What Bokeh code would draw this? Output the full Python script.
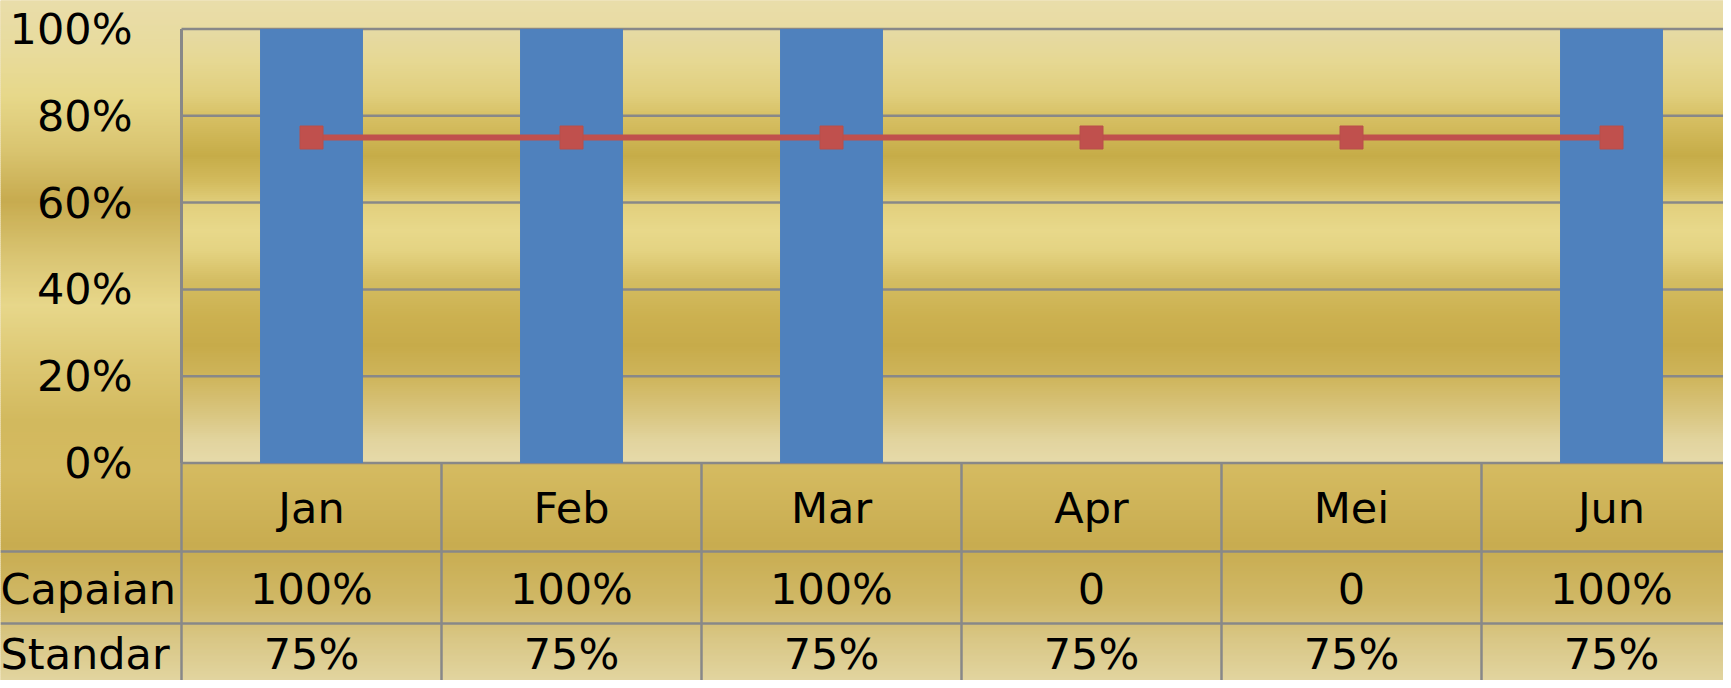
import numpy as np
from bokeh.plotting import figure
from bokeh.models import Range1d, ColumnDataSource
from bokeh.core.properties import value
from bokeh.embed import file_html
from bokeh.resources import INLINE

# ---------------- data ----------------
months = ["Jan", "Feb", "Mar", "Apr", "Mei", "Jun"]
capaian = [100, 100, 100, 0, 0, 100]
standar = [75, 75, 75, 75, 75, 75]
capaian_labels = ["100%", "100%", "100%", "0", "0", "100%"]
standar_labels = ["75%", "75%", "75%", "75%", "75%", "75%"]
row_names = ["Capaian", "Standar"]
y_ticks = [0, 20, 40, 60, 80, 100]
y_tick_labels = ["0%", "20%", "40%", "60%", "80%", "100%"]

# ---------------- layout (pixels) ----------------
W, H = 1723, 680
PLOT_L = 181
PLOT_T = 28.5
PLOT_B = 462.5
CAT_W = 260
PX_PER = (PLOT_B - PLOT_T) / 100.0
ROW1_B = 551
ROW2_B = 623
FONT = value("DejaVu Sans")
FS = "43px"
GRID_C = "#888888"

x0 = -0.5 - PLOT_L / CAT_W
x1 = x0 + W / CAT_W
y1 = PLOT_B / PX_PER
y0 = (PLOT_B - H) / PX_PER

p = figure(width=W, height=H, x_range=Range1d(x0, x1), y_range=Range1d(y0, y1),
           output_backend="svg", toolbar_location=None, min_border=0,
           x_axis_location=None, y_axis_location=None, outline_line_color=None)
p.extra_x_ranges = {"px": Range1d(0, W)}
p.extra_y_ranges = {"px": Range1d(H, 0)}
p.background_fill_color = "#E0CC80"
p.border_fill_color = "#E0CC80"


def hex2rgb(h):
    h = h.lstrip("#")
    return [int(h[i:i + 2], 16) for i in (0, 2, 4)]


def gradient(y_top, y_bot, stops, step=2.0):
    ys = np.arange(y_top, y_bot, step)
    pos = np.array([s[0] for s in stops], dtype=float)
    rgb = np.array([hex2rgb(s[1]) for s in stops], dtype=float)
    mids = ys + step / 2
    cols = []
    for m in mids:
        c = [int(round(np.interp(m, pos, rgb[:, k]))) for k in range(3)]
        cols.append("#%02x%02x%02x" % tuple(c))
    return ys, np.minimum(ys + step + 0.5, y_bot), cols


bg_stops = [(0, "#E9DDAA"), (50, "#E8DB9C"), (95, "#E7D88A"), (150, "#D9C470"),
            (200, "#C7AB4F"), (255, "#D9C472"), (305, "#E7D78A"), (360, "#DDC874"),
            (420, "#D2B95E"), (470, "#D4BA60"), (545, "#C8AC50"), (600, "#D0B866"),
            (640, "#D9C786"), (690, "#E4D8A6")]
t, b, c = gradient(0, H, bg_stops)
p.quad(left=0, right=W, top=t, bottom=b, fill_color=c, line_color=None,
       x_range_name="px", y_range_name="px")

plot_stops = [(28, "#E6DAA5"), (60, "#E6D893"), (95, "#E0CE7C"), (118, "#D6BF62"),
              (155, "#C6AC48"), (180, "#D2BA5C"), (205, "#E2D07E"), (230, "#E8D88A"),
              (250, "#E4D382"), (280, "#D4BD62"), (315, "#CCB150"), (345, "#C7AB4A"),
              (375, "#CEB45A"), (410, "#D8C47C"), (440, "#E2D49E"), (463, "#E6DAAA")]
t, b, c = gradient(PLOT_T, PLOT_B, plot_stops)
p.quad(left=PLOT_L, right=W, top=t, bottom=b, fill_color=c, line_color=None,
       x_range_name="px", y_range_name="px")

# grid lines
p.segment(x0=-0.5, x1=x1 + 1, y0=y_ticks, y1=y_ticks, line_color=GRID_C, line_width=2.5)

# bars
idx = list(range(len(months)))
src = ColumnDataSource(dict(x=idx, capaian=capaian, standar=standar, month=months,
                            cl=capaian_labels, sl=standar_labels))
p.vbar(x="x", top="capaian", bottom=0, width=0.396, fill_color="#4F81BD",
       line_color=None, source=src)

# table lines
p.segment(x0=0, x1=W, y0=[ROW1_B, ROW2_B], y1=[ROW1_B, ROW2_B], line_color=GRID_C,
          line_width=2.5, x_range_name="px", y_range_name="px")
vx = [i - 0.5 for i in range(len(months) + 1)]
p.segment(x0=vx, x1=vx, y0=[PLOT_B] * len(vx), y1=[H + 5] * len(vx), line_color=GRID_C,
          line_width=2.5, y_range_name="px")
p.segment(x0=[-0.5], x1=[-0.5], y0=[PLOT_T], y1=[PLOT_B], line_color=GRID_C,
          line_width=3, y_range_name="px")

# standar line
p.line(x="x", y="standar", line_color="#C0504D", line_width=6, source=src)
p.scatter(x="x", y="standar", marker="square", size=23, fill_color="#C0504D",
          line_color="#B84E4B", source=src)

# y tick labels
p.text(x=[132] * len(y_ticks), y=y_ticks, text=y_tick_labels, text_align="right",
       text_baseline="middle", text_font=FONT, text_font_size=FS, text_color="black",
       x_range_name="px")

# table texts
p.text(x="x", y=507, text="month", source=src, text_align="center", text_baseline="middle",
       text_font=FONT, text_font_size=FS, text_color="black", y_range_name="px")
p.text(x="x", y=588, text="cl", source=src, text_align="center", text_baseline="middle",
       text_font=FONT, text_font_size=FS, text_color="black", y_range_name="px")
p.text(x="x", y=653, text="sl", source=src, text_align="center", text_baseline="middle",
       text_font=FONT, text_font_size=FS, text_color="black", y_range_name="px")
p.text(x=[0, 0], y=[588, 653], text=row_names, text_align="left", text_baseline="middle",
       text_font=FONT, text_font_size=FS, text_color="black",
       x_range_name="px", y_range_name="px")

open("out.html", "w").write(file_html(p, INLINE))
